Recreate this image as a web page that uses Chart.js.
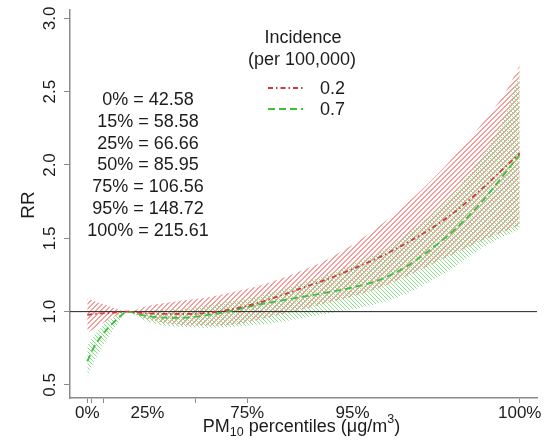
<!DOCTYPE html>
<html><head><meta charset="utf-8">
<script src="https://cdn.jsdelivr.net/npm/chart.js@4.4.0/dist/chart.umd.min.js"></script>
<style>html,body{margin:0;padding:0;background:#fff;}canvas{display:block;}</style>
</head><body>
<canvas id="c" width="545" height="442"></canvas>
<script>
// ---- data (PM10 concentration, µg/m3) ----
const conc       = [42.58, 45, 50, 55, 58.58, 65, 70, 80, 90, 100, 110, 120, 130, 140, 150, 160, 170, 180, 190, 200, 210, 215.61];
const redRR      = [0.978, 0.984, 0.99, 0.995, 1.0, 0.99, 0.986, 0.984, 0.99, 1.015, 1.055, 1.11, 1.17, 1.23, 1.30, 1.375, 1.465, 1.565, 1.685, 1.83, 1.99, 2.08];
const redUpper   = [1.09, 1.075, 1.045, 1.015, 1.0, 1.03, 1.05, 1.075, 1.095, 1.13, 1.17, 1.225, 1.29, 1.37, 1.47, 1.59, 1.73, 1.89, 2.07, 2.27, 2.50, 2.68];
const redLower   = [0.855, 0.88, 0.935, 0.978, 1.0, 0.955, 0.935, 0.91, 0.905, 0.91, 0.94, 0.98, 1.02, 1.065, 1.11, 1.165, 1.24, 1.32, 1.40, 1.48, 1.55, 1.59];
const greenRR    = [0.66, 0.75, 0.87, 0.955, 1.0, 0.975, 0.962, 0.958, 0.975, 1.005, 1.045, 1.075, 1.105, 1.135, 1.17, 1.22, 1.305, 1.425, 1.565, 1.74, 1.95, 2.07];
const greenUpper = [0.77, 0.83, 0.93, 0.98, 1.0, 1.005, 1.01, 1.02, 1.04, 1.07, 1.10, 1.15, 1.20, 1.26, 1.33, 1.41, 1.52, 1.66, 1.83, 2.04, 2.35, 2.62];
const greenLower = [0.56, 0.65, 0.80, 0.925, 1.0, 0.945, 0.915, 0.895, 0.89, 0.895, 0.91, 0.93, 0.96, 0.99, 1.02, 1.06, 1.12, 1.21, 1.31, 1.43, 1.52, 1.56];

const pctNames   = ['0%', '15%', '25%', '50%', '75%', '95%', '100%'];
const pctConc    = [42.58, 58.58, 66.66, 85.95, 106.56, 148.72, 215.61];
const xTickVals  = [42.58, 44.1, 48.9, 66.66, 85.95, 106.56, 148.72, 215.61];
const xTickText  = ['0%', '', '', '25%', '', '75%', '95%', '100%'];
const xTickMark  = [true, true, true, false, true, true, false, true];
const yTickVals  = [0.5, 1.0, 1.5, 2.0, 2.5, 3.0];
const yTickText  = ['0.5', '1.0', '1.5', '2.0', '2.5', '3.0'];
const seriesNames = ['0.2', '0.7'];
const refRR = 1.0;

const FONT = "'Liberation Sans', Arial, sans-serif";
const TXT = '#1c1c1c';
const RED = '#d03a3a', GREEN = '#3cc23c';

const canvas = document.getElementById('c');
const ctx0 = canvas.getContext('2d');
// pixel hatch tile: dir>0 => '/', dir<0 => '\'; thick = line thickness in pixels
function hatch(rgb, dir, s, thick) {
  const t = document.createElement('canvas'); t.width = s; t.height = s;
  const g = t.getContext('2d');
  const img = g.createImageData(s, s);
  for (let y = 0; y < s; y++) {
    for (let x = 0; x < s; x++) {
      const m = dir > 0 ? (x + y) % s : ((((x - y) % s) + s) % s);
      if (m < thick) {
        const k = (y * s + x) * 4;
        img.data[k] = rgb[0]; img.data[k + 1] = rgb[1]; img.data[k + 2] = rgb[2]; img.data[k + 3] = 255;
      }
    }
  }
  g.putImageData(img, 0, 0);
  return ctx0.createPattern(t, 'repeat');
}
const redHatch = hatch([242, 160, 160], 1, 5, 2);
const greenHatch = hatch([140, 222, 140], -1, 4, 1);

const pts = arr => conc.map((x, i) => ({x: x, y: arr[i]}));
const xMin = 35.66, xMax = 222.53;

const band = (data, bg, fill, order) => ({
  data: data, fill: fill, backgroundColor: bg, borderWidth: 0, borderColor: 'rgba(0,0,0,0)',
  pointRadius: 0, cubicInterpolationMode: 'monotone', order: order
});

const textPlugin = {
  id: 'texts',
  afterDraw(chart) {
    const c = chart.ctx, ys = chart.scales.y;
    c.save();
    c.fillStyle = TXT;
    c.font = '17px ' + FONT;
    c.textAlign = 'center'; c.textBaseline = 'middle';
    yTickVals.forEach((v, i) => {
      const py = ys.getPixelForValue(v);
      c.save(); c.translate(50, py); c.rotate(-Math.PI / 2);
      c.fillText(yTickText[i], 0, 0); c.restore();
    });
    c.font = '19px ' + FONT;
    c.save(); c.translate(29, 205); c.rotate(-Math.PI / 2); c.fillText('RR', 0, 0); c.restore();
    c.font = '18px ' + FONT;
    pctNames.forEach((p, i) => {
      c.fillText(p + ' = ' + pctConc[i].toFixed(2), 148, 100 + i * 21.8);
    });
    c.fillText('Incidence', 303, 38);
    c.fillText('(per 100,000)', 302, 60);
    const ds = chart.data.datasets;
    [[0, 88], [1, 109]].forEach(([k, y]) => {
      c.save();
      c.strokeStyle = ds[k].borderColor; c.lineWidth = ds[k].borderWidth;
      c.setLineDash(ds[k].borderDash);
      c.beginPath(); c.moveTo(268, y); c.lineTo(303, y); c.stroke();
      c.restore();
      c.textAlign = 'left';
      c.fillText(seriesNames[k], 320, y + 1);
      c.textAlign = 'center';
    });
    const parts = [
      ['PM', 18, 0], ['10', 12.5, 4], [' percentiles (', 18, 0], ['\u03bcg/m', 18, 0], ['3', 12.5, -9], [')', 18, 0]
    ];
    let w = 0;
    parts.forEach(p => { c.font = p[1] + 'px ' + FONT; w += c.measureText(p[0]).width; });
    let x = 301.5 - w / 2;
    c.textAlign = 'left'; c.textBaseline = 'alphabetic';
    parts.forEach(p => {
      c.font = p[1] + 'px ' + FONT;
      c.fillText(p[0], x, 432 + p[2]);
      x += c.measureText(p[0]).width;
    });
    c.restore();
  }
};

new Chart(canvas, {
  type: 'line',
  data: {
    datasets: [
      { label: seriesNames[0], data: pts(redRR), borderColor: RED, borderWidth: 1.8, borderDash: [5, 3, 1.5, 3],
        pointRadius: 0, fill: false, cubicInterpolationMode: 'monotone', order: 0 },
      { label: seriesNames[1], data: pts(greenRR), borderColor: GREEN, borderWidth: 1.8, borderDash: [7, 4],
        pointRadius: 0, fill: false, cubicInterpolationMode: 'monotone', order: 0 },
      { label: 'ref', data: [{x: xMin, y: refRR}, {x: xMax, y: refRR}], borderColor: '#222', borderWidth: 1,
        pointRadius: 0, fill: false, order: 1 },
      band(pts(redUpper), redHatch, '+1', 3),
      band(pts(redLower), 'rgba(0,0,0,0)', false, 3),
      band(pts(greenUpper), greenHatch, '+1', 2),
      band(pts(greenLower), 'rgba(0,0,0,0)', false, 2)
    ]
  },
  options: {
    responsive: false,
    animation: false,
    devicePixelRatio: 1,
    layout: { padding: { top: 10, right: 8, left: 0, bottom: 0 } },
    plugins: { legend: { display: false }, tooltip: { enabled: false } },
    scales: {
      x: {
        type: 'linear', min: xMin, max: xMax,
        afterBuildTicks: s => { s.ticks = xTickVals.map(v => ({value: v})); },
        afterFit: s => { s.height = 44; },
        ticks: {
          callback: (v, i) => xTickText[i], autoSkip: false, maxRotation: 0, minRotation: 0,
          font: { size: 17, family: FONT }, color: TXT, padding: 0
        },
        grid: {
          drawOnChartArea: false, drawTicks: true, tickLength: 5,
          tickColor: c => (c.index !== undefined && xTickMark[c.index]) ? '#8a8a8a' : 'rgba(0,0,0,0)',
          color: 'rgba(0,0,0,0)'
        },
        border: { display: true, color: '#8a8a8a', width: 1.5 }
      },
      y: {
        type: 'linear', min: 0.411, max: 3.057,
        afterBuildTicks: s => { s.ticks = yTickVals.map(v => ({value: v})); },
        afterFit: s => { s.width = 70; },
        ticks: { display: false },
        grid: { drawOnChartArea: false, drawTicks: true, tickLength: 6, tickColor: '#8a8a8a', color: 'rgba(0,0,0,0)' },
        border: { display: true, color: '#8a8a8a', width: 1.5 }
      }
    }
  },
  plugins: [textPlugin]
});
</script>
</body></html>
